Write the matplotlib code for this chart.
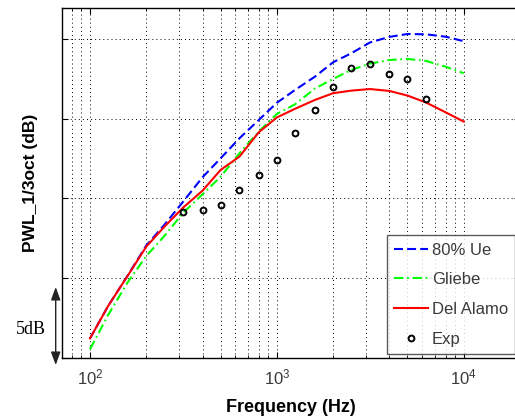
import matplotlib
matplotlib.use("Agg")
import matplotlib.pyplot as plt
from matplotlib.ticker import LogLocator, MultipleLocator, NullFormatter

plt.rcParams['font.family'] = ['Liberation Sans', 'DejaVu Sans']
plt.rcParams['mathtext.fontset'] = 'custom'
plt.rcParams['mathtext.rm'] = 'Liberation Sans'
plt.rcParams['mathtext.it'] = 'Liberation Sans:italic'
plt.rcParams['mathtext.bf'] = 'Liberation Sans:bold'

# ---- data (dB relative) ----
freqs = [100, 125, 160, 200, 250, 315, 400, 500, 630, 800, 1000, 1250, 1600,
         2000, 2500, 3150, 4000, 5000, 6300, 8000, 10000]
ue80 = [1.23, 3.26, 5.22, 7.05, 8.35, 9.8, 11.33, 12.52, 13.77, 14.92, 16.0,
        16.8, 17.64, 18.54, 19.1, 19.78, 20.13, 20.31, 20.29, 20.14, 19.86]
gliebe = [0.55, 2.7, 4.79, 6.39, 7.65, 9.1, 10.26, 11.37, 12.83, 14.19, 15.3,
          15.9, 16.9, 17.49, 18.06, 18.45, 18.68, 18.75, 18.62, 18.26, 17.85]
delalamo = [1.23, 3.26, 5.2, 6.98, 8.23, 9.43, 10.49, 11.79, 12.62, 14.15,
            15.08, 15.62, 16.18, 16.6, 16.76, 16.86, 16.74, 16.45, 16.01,
            15.4, 14.82]
exp_f = [315, 400, 500, 630, 800, 1000, 1250, 1600, 2000, 2500, 3150, 4000,
         5000, 6300]
exp_v = [9.13, 9.28, 9.59, 10.53, 11.47, 12.41, 14.11, 15.53, 16.99, 18.2,
         18.43, 17.81, 17.49, 16.26]
labels = ['80% Ue', 'Gliebe', 'Del Alamo', 'Exp']

W, H = 515, 417
fig = plt.figure(figsize=(W / 100, H / 100), dpi=100)
ax = fig.add_axes([62 / W, 59 / H, 458 / W, 350 / H])

ax.plot(freqs, ue80, color='#0000ff', lw=1.5, ls=(0, (4.3, 2.0)), label=labels[0])
ax.plot(freqs, gliebe, color='#00ff00', lw=1.5, ls=(0, (4.5, 1.8, 0.8, 1.8)), label=labels[1])
ax.plot(freqs, delalamo, color='#ff0000', lw=1.5, label=labels[2])
ax.plot(exp_f, exp_v, ls='none', marker='o', ms=4.2, mfc='none', mec='black',
        mew=1.4, label=labels[3])

ax.set_xscale('log')
ax.set_xlim(70.8, 20000)
ax.set_ylim(0, 21.94)
ax.yaxis.set_major_locator(MultipleLocator(5))
ax.set_yticklabels([])
ax.xaxis.set_major_locator(LogLocator(base=10, numticks=10))
ax.xaxis.set_minor_locator(LogLocator(base=10, subs=range(2, 10), numticks=50))
ax.xaxis.set_minor_formatter(NullFormatter())

gridstyle = dict(color='black', lw=0.7, ls=(0, (1, 3.2)))
ax.grid(True, which='major', axis='both', **gridstyle)
ax.grid(True, which='minor', axis='x', **gridstyle)

ax.tick_params(which='both', direction='in', top=True, right=True,
               labelsize=12, labelcolor='#3a3a3a', pad=7)
ax.tick_params(which='major', length=4)
ax.tick_params(which='minor', length=2.5)
for s in ax.spines.values():
    s.set_linewidth(1.0)

ax.set_xlabel('Frequency (Hz)', fontsize=13, fontweight='bold', labelpad=8)
ax.set_ylabel('PWL_1/3oct (dB)', fontsize=12.5, fontweight='bold', labelpad=10)

leg = ax.legend(loc='lower left', bbox_to_anchor=(0.709, 0.0114), fontsize=12,
                frameon=True, fancybox=False, edgecolor='#333333',
                handlelength=2.0, handletextpad=0.25, labelspacing=0.88,
                borderpad=0.45, borderaxespad=0.0)
leg.get_frame().set_linewidth(1.0)
for t in leg.get_texts():
    t.set_color('#3a3a3a')

# 5 dB scale arrow and text
ax.annotate('', xy=(55.7 / W, 1 - 365 / H), xytext=(55.7 / W, 1 - 287 / H),
            xycoords='figure fraction', textcoords='figure fraction',
            arrowprops=dict(arrowstyle='<|-|>,head_length=0.6,head_width=0.22',
                            color='#222222', lw=1.0,
                            mutation_scale=13, shrinkA=0, shrinkB=0))
fig.text(30.5 / W, 1 - 329 / H, '5dB', family='Liberation Serif', fontsize=13,
         ha='center', va='center', color='black')

fig.savefig('out.png', dpi=100)
